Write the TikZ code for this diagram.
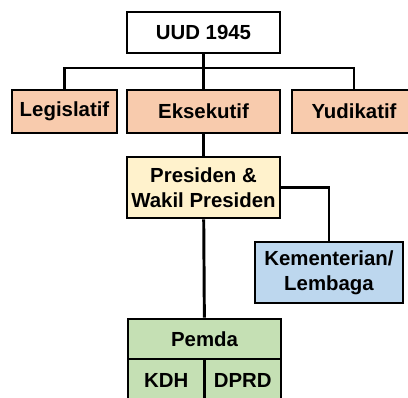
\documentclass[tikz,border=0pt]{standalone}
\usepackage{fontspec}
\setmainfont{Liberation Sans}
\definecolor{salmon}{HTML}{F8CBAD}
\definecolor{cream}{HTML}{FFF2CC}
\definecolor{skyblue}{HTML}{BDD7EE}
\definecolor{leafgreen}{HTML}{C5E0B4}
\begin{document}
\begin{tikzpicture}[x=0.025cm, y=-0.025cm,
    box/.style={draw, line width=2.1pt, inner sep=0pt, align=center,
      font=\fontsize{14.5}{17.5}\selectfont\bfseries},
    link/.style={line width=2.1pt}]
        \clip (0,0) rectangle (408,398);
        \fill[white] (0,0) rectangle (408,398);
        \node[box, minimum width=3.825cm, minimum height=1.025cm] at (203.5,32.5) (uud) {UUD 1945};
        \node[box, fill=salmon, minimum width=2.625cm, minimum height=1.075cm] at (64.5,111.5) (leg) {Legislatif};
        \node[box, fill=salmon, minimum width=3.825cm, minimum height=1.075cm] at (203.5,111.5) (eks) {Eksekutif};
        \node[box, fill=salmon, minimum width=3.1cm, minimum height=1.075cm] at (354,111.5) (yud) {Yudikatif};
        \node[box, fill=cream, minimum width=3.825cm, minimum height=1.525cm] at (203.5,187.5) (pres) {Presiden \&\\Wakil Presiden};
        \node[box, fill=skyblue, minimum width=3.7cm, minimum height=1.525cm] at (329,272.5) (kem) {Kementerian/\\Lembaga};
        \node[box, fill=leafgreen, minimum width=3.825cm, minimum height=1cm] at (204.5,339) (pemda) {Pemda};
        \node[box, fill=leafgreen, minimum width=1.9125cm, minimum height=1.075cm] at (166.25,380.5) (kdh) {KDH};
        \node[box, fill=leafgreen, minimum width=1.9125cm, minimum height=1.075cm] at (242.75,380.5) (dprd) {DPRD};
        \coordinate (bus) at (203.5,68);

        \draw[link] (uud)--(eks);
        \draw[link] (leg.north) |- (bus) -| (yud.north);
        \draw[link] (eks)--(pres);
        \draw[link] (pres.east) -| (kem.north);
        \draw[link] (pres)--(pemda);
      \end{tikzpicture}
\end{document}
